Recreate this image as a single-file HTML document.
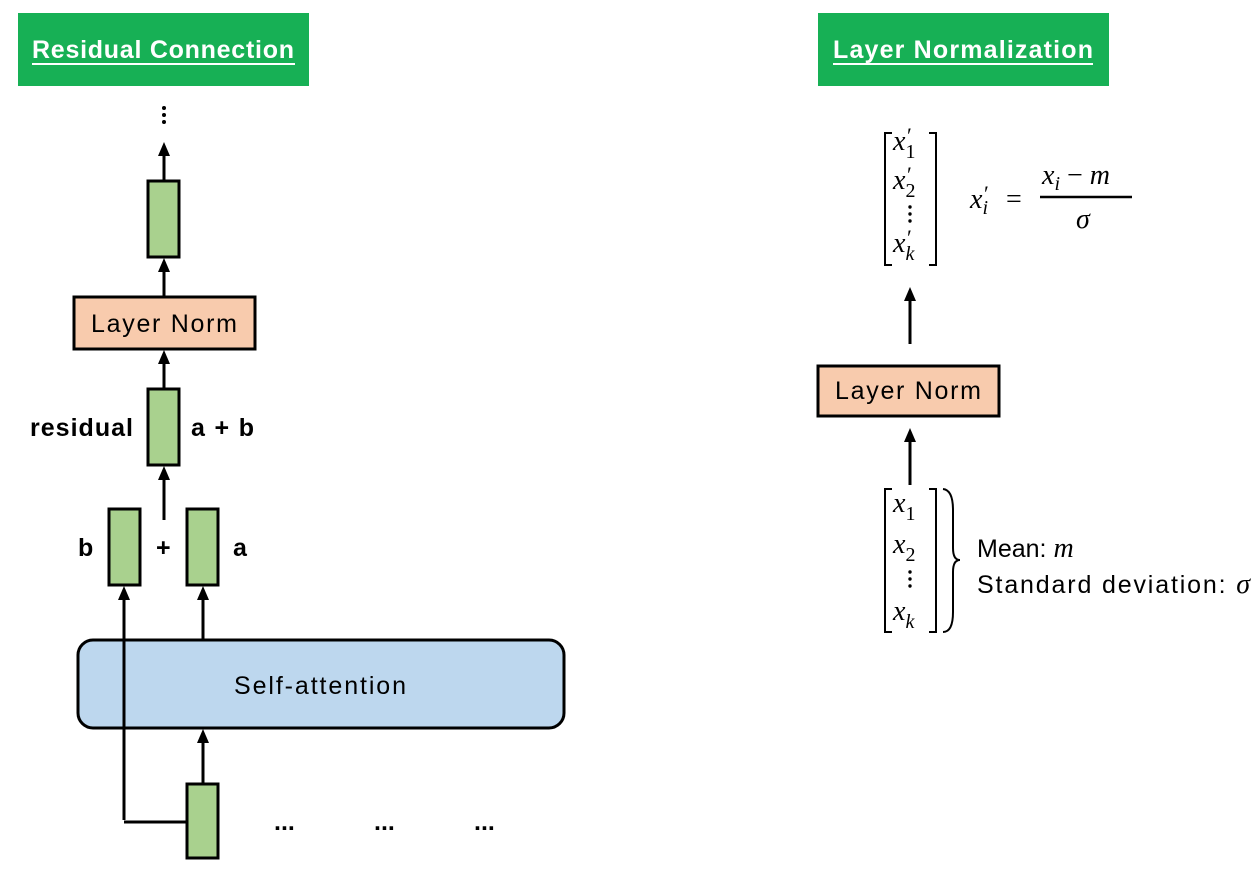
<!DOCTYPE html>
<html><head><meta charset="utf-8"><style>
html,body{margin:0;padding:0;background:#fff;}
svg{display:block;}
.t{font-family:"Liberation Sans",sans-serif;}
.m{font-family:"Liberation Serif",serif;font-style:italic;}
</style></head><body>
<svg width="1260" height="869" viewBox="0 0 1260 869" xmlns="http://www.w3.org/2000/svg">
<!-- Titles -->
<rect x="18" y="13" width="291" height="73" fill="#17b055"/>
<text x="163" y="58" text-anchor="middle" class="t" font-size="25" font-weight="bold" fill="#fff" textLength="262">Residual Connection</text>
<line x1="32" y1="64" x2="295" y2="64" stroke="#fff" stroke-width="2"/>
<rect x="818" y="13" width="291" height="73" fill="#17b055"/>
<text x="963" y="58" text-anchor="middle" class="t" font-size="25" font-weight="bold" fill="#fff" textLength="260">Layer Normalization</text>
<line x1="833" y1="64" x2="1093" y2="64" stroke="#fff" stroke-width="2"/>

<circle cx="164" cy="108" r="2" fill="#000"/><circle cx="164" cy="115" r="2" fill="#000"/><circle cx="164" cy="122" r="2" fill="#000"/>

<g stroke="#000" stroke-width="3" fill="none">
<line x1="164" y1="181" x2="164" y2="152"/>
<line x1="164" y1="297" x2="164" y2="268"/>
<line x1="164" y1="389" x2="164" y2="360"/>
<line x1="164" y1="520" x2="164" y2="476"/>
<line x1="203" y1="640" x2="203" y2="597"/>
<polyline points="124,820 124,597"/>
<polyline points="124,822 189,822"/>
<line x1="203" y1="784" x2="203" y2="740"/>
<line x1="910" y1="344" x2="910" y2="298"/>
<line x1="910" y1="485" x2="910" y2="440"/>
</g>
<g fill="#000">
<polygon points="164,142 158,156 170,156"/>
<polygon points="164,258 158,272 170,272"/>
<polygon points="164,350 158,364 170,364"/>
<polygon points="164,466 158,480 170,480"/>
<polygon points="124,586 118,600 130,600"/>
<polygon points="203,586 197,600 209,600"/>
<polygon points="203,729 197,743 209,743"/>
<polygon points="910,287 904,301 916,301"/>
<polygon points="910,428 904,442 916,442"/>
</g>

<g stroke="#000" stroke-width="3">
<rect x="148" y="181" width="31" height="76" fill="#a9d18e"/>
<rect x="74" y="297" width="181" height="52" fill="#f8cbad"/>
<rect x="148" y="389" width="31" height="76" fill="#a9d18e"/>
<rect x="109" y="509" width="31" height="76" fill="#a9d18e"/>
<rect x="187" y="509" width="31" height="76" fill="#a9d18e"/>
<rect x="78" y="640" width="486" height="88" rx="15" fill="#bdd7ee"/>
<rect x="187" y="784" width="31" height="74" fill="#a9d18e"/>
<rect x="818" y="366" width="181" height="50" fill="#f8cbad"/>
</g>
<line x1="124" y1="640" x2="124" y2="728" stroke="#000" stroke-width="3"/>

<g class="t" font-size="25" fill="#000">
<text x="164" y="332" text-anchor="middle" textLength="146">Layer Norm</text>
<text x="320" y="694" text-anchor="middle" textLength="172">Self-attention</text>
<text x="908" y="399" text-anchor="middle" textLength="146">Layer Norm</text>
<text x="977" y="557">Mean: <tspan class="m" font-size="28">m</tspan></text>
<text x="977" y="593" textLength="273">Standard deviation: <tspan class="m" font-size="28">σ</tspan></text>
</g>
<g class="t" font-size="25" font-weight="bold" fill="#000">
<text x="30" y="436" textLength="103">residual</text>
<text x="191" y="436" textLength="63">a + b</text>
<text x="78" y="556">b</text>
<text x="156" y="556">+</text>
<text x="233" y="556">a</text>
<text x="274" y="830">...</text>
<text x="374" y="830">...</text>
<text x="474" y="830">...</text>
</g>

<g stroke="#000" stroke-width="2" fill="none">
<polyline points="892,133 885,133 885,265 892,265"/>
<polyline points="929,133 936,133 936,265 929,265"/>
<polyline points="892,489 885,489 885,632 892,632"/>
<polyline points="929,489 936,489 936,632 929,632"/>
<path d="M943,489 Q953,490 953,510 L953,548 Q953,560 960,560 Q953,560 953,572 L953,612 Q953,632 943,632"/>
<line x1="1040" y1="197" x2="1132" y2="197" stroke-width="2.5"/>
</g>
<g class="m" font-size="28" fill="#000">
<text x="893" y="150">x<tspan font-style="normal" font-size="20" dy="8">1</tspan></text>
<text x="893" y="189">x<tspan font-style="normal" font-size="20" dy="8">2</tspan></text>
<text x="893" y="252">x<tspan font-size="20" dy="8">k</tspan></text>
<text x="907" y="143" font-style="normal" font-size="22">′</text>
<text x="907" y="182" font-style="normal" font-size="22">′</text>
<text x="907" y="245" font-style="normal" font-size="22">′</text>
<text x="970" y="208">x<tspan font-size="20" dy="6">i</tspan></text>
<text x="984" y="201" font-style="normal" font-size="22">′</text>
<text x="1006" y="208" font-style="normal">=</text>
<text x="1042" y="184">x<tspan font-size="20" dy="6">i</tspan><tspan font-style="normal" dy="-6"> − </tspan>m</text>
<text x="1076" y="228">σ</text>
<text x="893" y="512">x<tspan font-style="normal" font-size="20" dy="8">1</tspan></text>
<text x="893" y="553">x<tspan font-style="normal" font-size="20" dy="8">2</tspan></text>
<text x="893" y="620">x<tspan font-size="20" dy="8">k</tspan></text>
</g>
<g fill="#000">
<circle cx="910" cy="207" r="1.7"/><circle cx="910" cy="214" r="1.7"/><circle cx="910" cy="221" r="1.7"/>
<circle cx="910" cy="572" r="1.7"/><circle cx="910" cy="579" r="1.7"/><circle cx="910" cy="586" r="1.7"/>
</g>
</svg>
</body></html>
